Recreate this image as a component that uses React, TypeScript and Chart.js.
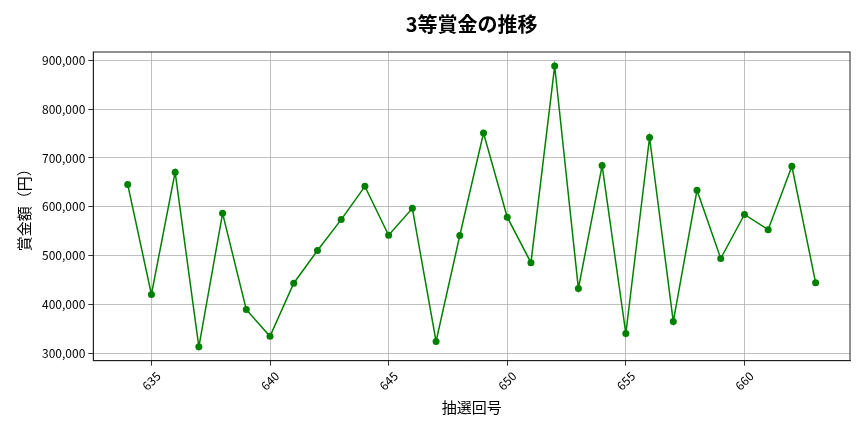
import React, { useEffect, useRef } from "react";
import { Chart, registerables } from "chart.js";

Chart.register(...registerables);

const drawNumbers = [634, 635, 636, 637, 638, 639, 640, 641, 642, 643, 644, 645, 646, 647, 648, 649, 650, 651, 652, 653, 654, 655, 656, 657, 658, 659, 660, 661, 662, 663];
const prizeValues = [646000, 421000, 671000, 314000, 587000, 390000, 335500, 444000, 511000, 574000, 642000, 542000, 597000, 325000, 541500, 751000, 579000, 486000, 888000, 433000, 684500, 341000, 742000, 365500, 634000, 494500, 584500, 553500, 683000, 445000];
const xTickValues = [635, 640, 645, 650, 655, 660];
const yTickValues = [300000, 400000, 500000, 600000, 700000, 800000, 900000];
const chartTitle = "3等賞金の推移";

const FONT = "'Noto Sans CJK JP', 'Noto Sans', sans-serif";
const TICK_SIZE = 12;
const TITLE_SIZE = 20;

const frame = {
  id: "frame",
  afterDraw(chart: any) {
    const { ctx, chartArea } = chart;
    ctx.save();
    ctx.strokeStyle = "#222";
    ctx.lineWidth = 1;
    ctx.strokeRect(chartArea.left, chartArea.top, chartArea.right - chartArea.left, chartArea.bottom - chartArea.top);
    // title centred over the plot area
    ctx.fillStyle = "#000";
    ctx.font = `bold ${TITLE_SIZE}px ${FONT}`;
    ctx.textAlign = "center";
    ctx.textBaseline = "middle";
    const tb = chart.titleBlock;
    const ty = tb ? tb.top + 8 + (TITLE_SIZE * 1.2) / 2 : 24;
    ctx.fillText(chartTitle, (chartArea.left + chartArea.right) / 2, ty);
    // x tick labels, rotated 45° and centred under each tick
    const xs = chart.scales.x;
    ctx.font = `${TICK_SIZE}px ${FONT}`;
    const top = chartArea.bottom + 10;
    xs.ticks.forEach((t: any) => {
      const label = String(t.value);
      const w = ctx.measureText(label).width;
      const h = TICK_SIZE * 0.75;
      const half = (w + h) / (2 * Math.SQRT2);
      const px = xs.getPixelForValue(t.value);
      ctx.save();
      ctx.translate(px, top + half);
      ctx.rotate(-Math.PI / 4);
      ctx.fillText(label, 0, 0);
      ctx.restore();
    });
    ctx.restore();
  },
};

export default function App() {
  const ref = useRef<HTMLCanvasElement | null>(null);
  useEffect(() => {
    if (!ref.current) return;
    const chart = new Chart(ref.current, {
      type: "line",
      data: {
        datasets: [
          {
            data: drawNumbers.map((x, i) => ({ x, y: prizeValues[i] })),
            borderColor: "#008000",
            backgroundColor: "#008000",
            borderWidth: 1.5,
            pointRadius: 3.5,
            pointHoverRadius: 3.5,
            pointBorderWidth: 0,
            tension: 0,
          },
        ],
      },
      options: {
        animation: false,
        responsive: true,
        maintainAspectRatio: false,
        layout: { padding: { left: 15, right: 14, top: 4, bottom: 16 } },
        plugins: {
          legend: { display: false },
          tooltip: { enabled: false },
          title: {
            display: true,
            text: chartTitle,
            color: "rgba(0,0,0,0)",
            font: { family: FONT, size: TITLE_SIZE, weight: "bold" },
            padding: { top: 8, bottom: 16 },
          },
        },
        scales: {
          x: {
            type: "linear",
            min: 632.55,
            max: 664.45,
            afterBuildTicks: (scale: any) => {
              scale.ticks = xTickValues.map((v) => ({ value: v }));
            },
            ticks: {
              color: "rgba(0,0,0,0)",
              font: { family: FONT, size: TICK_SIZE },
              maxRotation: 45,
              minRotation: 45,
              padding: 2,
              callback: (v: any) => String(v),
            },
            grid: { color: "#b0b0b0", lineWidth: 0.8, tickColor: "#000", tickLength: 5 },
            border: { display: true, color: "#222", width: 1 },
            title: {
              display: true,
              text: "抽選回号",
              color: "#000",
              font: { family: FONT, size: 15 },
              padding: { top: 4, bottom: 0 },
            },
          },
          y: {
            type: "linear",
            min: 285600,
            max: 916700,
            afterBuildTicks: (scale: any) => {
              scale.ticks = yTickValues.map((v) => ({ value: v }));
            },
            ticks: {
              color: "#000",
              font: { family: FONT, size: TICK_SIZE },
              padding: 3,
              callback: (v: any) => Number(v).toLocaleString("en-US"),
            },
            grid: { color: "#b0b0b0", lineWidth: 0.8, tickColor: "#000", tickLength: 5 },
            border: { display: true, color: "#222", width: 1 },
            title: {
              display: true,
              text: "賞金額（円）",
              color: "#000",
              font: { family: FONT, size: 15 },
              padding: { top: 0, bottom: 6 },
            },
          },
        },
      },
      plugins: [frame],
    });
    return () => chart.destroy();
  }, []);
  return (
    <div style={{ position: "fixed", left: 0, top: 0, width: 864, height: 432, background: "#fff" }}>
      <canvas ref={ref} />
    </div>
  );
}
